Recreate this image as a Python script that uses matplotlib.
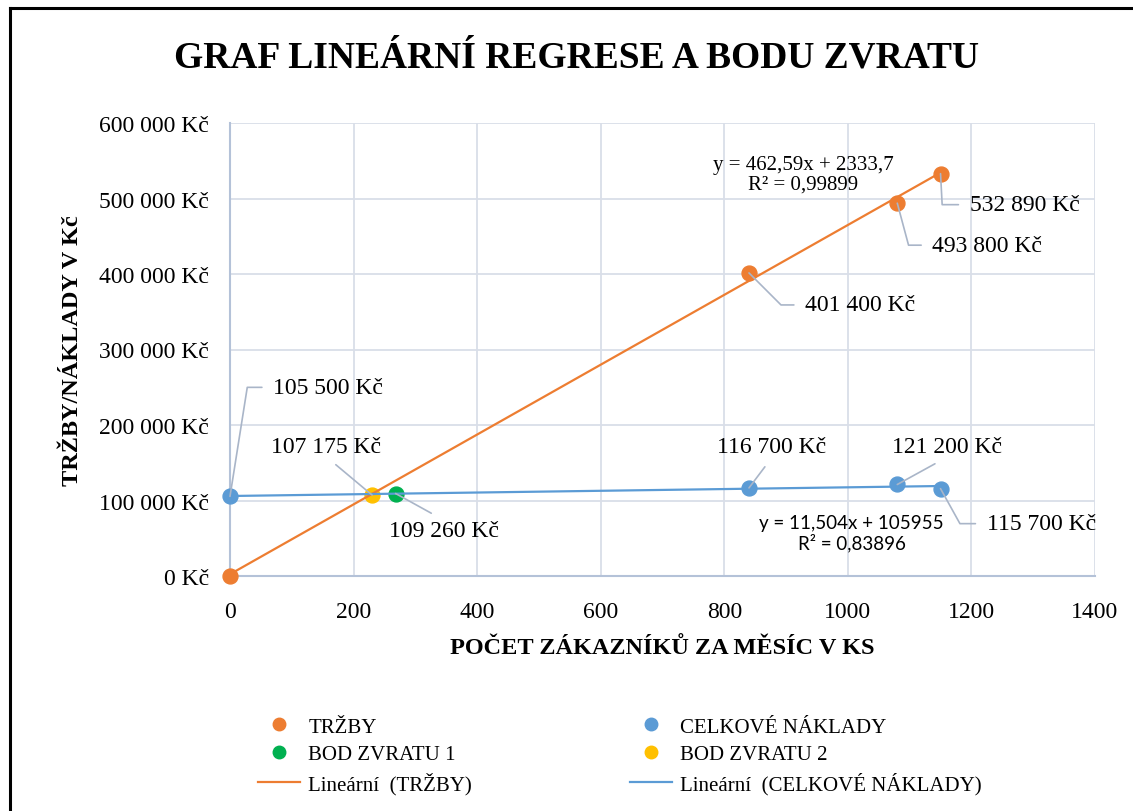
import numpy as np
import matplotlib
matplotlib.use('Agg')
import matplotlib.pyplot as plt
from matplotlib.lines import Line2D

plt.rcParams['font.family'] = ['Liberation Serif', 'DejaVu Serif']

# data
zakaznici = [0, 840, 1080, 1150]
trzby = [0, 401400, 493800, 532890]
naklady = [105500, 116700, 121200, 115700]
bod1 = ([268], [109260])
bod2 = ([230], [107175])

# trendline coefficients shown in the chart
trzby_k, trzby_q, trzby_r2 = 462.59, 2333.7, 0.99899
nakl_k, nakl_q, nakl_r2 = 11.504, 105955, 0.83896

x_ticks = [0, 200, 400, 600, 800, 1000, 1200, 1400]
y_ticks = [0, 100000, 200000, 300000, 400000, 500000, 600000]

ORANGE = '#ED7D31'
BLUE = '#5B9BD5'
GREEN = '#00B050'
YELLOW = '#FFC000'
GRID = '#D9DEE8'
LEADER = '#A9B5C8'

W, H = 1133, 812
fig = plt.figure(figsize=(W / 100, H / 100), dpi=100)
ax = fig.add_axes([230 / W, 1 - 577 / H, 865 / W, 453 / H])


def kc(v):
    return f"{v:,.0f}".replace(',', ' ') + ' Kč'


ms = 115
ax.scatter(zakaznici, trzby, s=ms, color=ORANGE, zorder=3, clip_on=False)
ax.scatter(zakaznici, naklady, s=ms, color=BLUE, zorder=3, clip_on=False)
ax.scatter(*bod1, s=ms, color=GREEN, zorder=3)
ax.scatter(*bod2, s=ms, color=YELLOW, zorder=3)

xx = np.array([min(zakaznici), max(zakaznici)])
ax.plot(xx, trzby_k * xx + trzby_q, color=ORANGE, lw=1.6, zorder=4, clip_on=False)
ax.plot(xx, nakl_k * xx + nakl_q, color=BLUE, lw=1.6, zorder=4, clip_on=False)

ax.set_xlim(0, 1400)
ax.set_ylim(0, 600000)
ax.set_xticks(x_ticks)
ax.set_yticks(y_ticks)
ax.set_yticklabels([kc(v) for v in y_ticks])
ax.tick_params(length=0, labelsize=17)
ax.tick_params(axis='y', pad=15)
ax.tick_params(axis='x', pad=18)
ax.grid(True, color=GRID, lw=1.3)
ax.set_axisbelow(True)
for s in ['top', 'right']:
    ax.spines[s].set_visible(False)
for s in ['left', 'bottom']:
    ax.spines[s].set_color('#B4C2D8')
    ax.spines[s].set_linewidth(1.5)

ax.set_xlabel('POČET ZÁKAZNÍKŮ ZA MĚSÍC V KS', fontsize=17.5, fontweight='bold', labelpad=11)
ax.set_ylabel('TRŽBY/NÁKLADY V Kč', fontsize=17.5, fontweight='bold', labelpad=12)

fig.text(576 / W, 1 - 58 / H, 'GRAF LINEÁRNÍ REGRESE A BODU ZVRATU',
         ha='center', va='center', fontsize=27, fontweight='bold')


# data labels with leader lines (offsets in pixels, relpos, connection)
def label(x, y, dx, dy, ha, va, relpos, conn):
    ax.annotate(kc(y), (x, y), xytext=(dx * 0.72, dy * 0.72),
                textcoords='offset points', ha=ha, va=va, fontsize=17,
                arrowprops=dict(arrowstyle='-', color=LEADER, lw=1.2,
                                relpos=relpos, connectionstyle=conn,
                                shrinkA=6, shrinkB=0),
                zorder=5)


label(zakaznici[1], trzby[1], 56, -32, 'left', 'center', (0, 0.5), 'angle,angleA=0,angleB=-45,rad=0')
label(zakaznici[2], trzby[2], 35, -42, 'left', 'center', (0, 0.5), 'angle,angleA=0,angleB=-75,rad=0')
label(zakaznici[3], trzby[3], 29, -31, 'left', 'center', (0, 0.5), 'angle,angleA=0,angleB=-87,rad=0')
label(zakaznici[0], naklady[0], 43, 109, 'left', 'center', (0, 0.5), 'angle,angleA=0,angleB=81,rad=0')
label(zakaznici[1], naklady[1], 23, 41, 'center', 'center', (0.5, 0), 'arc3,rad=0')
label(zakaznici[2], naklady[2], 50, 38, 'center', 'center', (0.5, 0), 'arc3,rad=0')
label(zakaznici[3], naklady[3], 46, -35, 'left', 'center', (0, 0.5), 'angle,angleA=0,angleB=-61,rad=0')
label(bod2[0][0], bod2[1][0], -46, 49, 'center', 'center', (0.5, 0), 'arc3,rad=0')
label(bod1[0][0], bod1[1][0], 48, -37, 'center', 'center', (0.5, 1), 'arc3,rad=0')

# trendline equations
fmt = lambda v: f"{v}".replace('.', ',')
ax.annotate(f"y = {fmt(trzby_k)}x + {fmt(trzby_q)}\nR² = {fmt(trzby_r2)}",
            (zakaznici[3], trzby[3]), xytext=(-137 * 0.72, -1 * 0.72), textcoords='offset points',
            ha='center', va='center', fontsize=15, linespacing=1.05)
ax.annotate(f"y = {fmt(nakl_k)}x + {nakl_q}\nR² = {fmt(nakl_r2)}",
            (zakaznici[3], naklady[3]), xytext=(-89 * 0.72, -44 * 0.72), textcoords='offset points',
            ha='center', va='center', fontsize=13.5, linespacing=1.1, family='Lato')

# legend, two columns
leg1 = [Line2D([], [], ls='', marker='o', ms=9, color=ORANGE),
        Line2D([], [], ls='', marker='o', ms=9, color=GREEN),
        Line2D([], [], color=ORANGE, lw=1.6)]
leg2 = [Line2D([], [], ls='', marker='o', ms=9, color=BLUE),
        Line2D([], [], ls='', marker='o', ms=9, color=YELLOW),
        Line2D([], [], color=BLUE, lw=1.6)]
kw = dict(frameon=False, fontsize=15, handlelength=2.0, handletextpad=0.42,
          labelspacing=0.38, loc='upper left', borderpad=0, borderaxespad=0)
l1 = fig.legend(leg1, ['TRŽBY', 'BOD ZVRATU 1', 'Lineární  (TRŽBY)'],
                bbox_to_anchor=(258 / W, 1 - 718 / H), **kw)
l2 = fig.legend(leg2, ['CELKOVÉ NÁKLADY', 'BOD ZVRATU 2', 'Lineární  (CELKOVÉ NÁKLADY)'],
                bbox_to_anchor=(630 / W, 1 - 718 / H), **kw)

# chart frame (left and top edges visible)
fig.add_artist(Line2D([10 / W, 10 / W], [0, 1 - 9 / H], color='black', lw=2.2))
fig.add_artist(Line2D([10 / W, 1], [1 - 9 / H, 1 - 9 / H], color='black', lw=2.2))

fig.savefig('out.png', dpi=100)
